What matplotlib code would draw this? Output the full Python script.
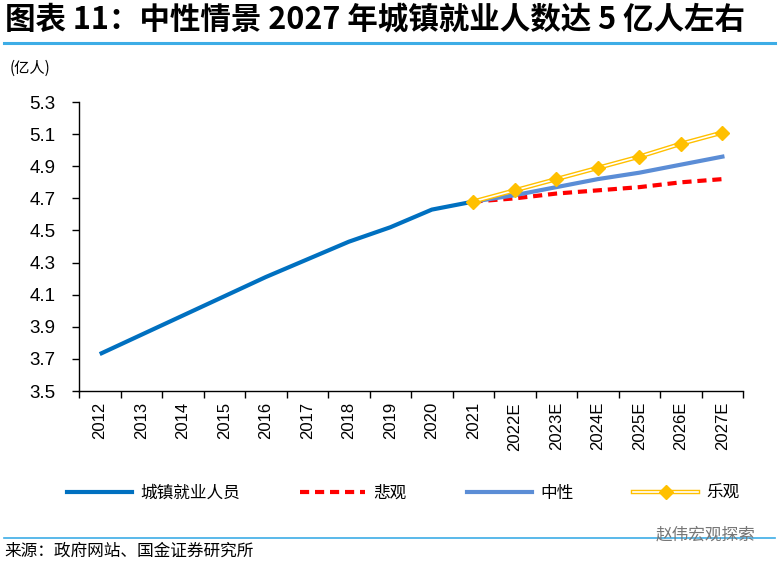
import numpy as np
import matplotlib.pyplot as plt
from matplotlib.lines import Line2D

plt.rcParams['font.family'] = ['Liberation Sans', 'Noto Sans CJK SC', 'DejaVu Sans']
cjk = ['Noto Sans CJK SC', 'DejaVu Sans']

years = ["2012", "2013", "2014", "2015", "2016", "2017", "2018", "2019", "2020", "2021",
         "2022E", "2023E", "2024E", "2025E", "2026E", "2027E"]
history = [3.73, 3.85, 3.97, 4.09, 4.21, 4.32, 4.43, 4.52, 4.63, 4.68]
pessimistic = [4.68, 4.70, 4.73, 4.75, 4.77, 4.80, 4.82]
neutral = [4.68, 4.72, 4.77, 4.82, 4.86, 4.91, 4.96]
optimistic = [4.68, 4.75, 4.82, 4.89, 4.96, 5.04, 5.11]
yticks = [3.5, 3.7, 3.9, 4.1, 4.3, 4.5, 4.7, 4.9, 5.1, 5.3]

x = np.arange(len(years))
xh = x[:len(history)]
xf = x[len(history) - 1:]

fig = plt.figure(figsize=(7.79, 5.67), dpi=100)
ax = fig.add_axes([0.1014, 0.3104, 0.8526, 0.5096])

c_hist = "#0070C0"
c_neu = "#5B8DD6"
c_red = "#FF0000"
c_gold = "#FFC000"

ax.plot(xh, history, color=c_hist, lw=3, solid_capstyle="butt")
ax.plot(xf, pessimistic, color=c_red, lw=3, ls=(0, (2.2, 1.4)))
ax.plot(xf, neutral, color=c_neu, lw=3)
ax.plot(xf, optimistic, color=c_gold, lw=3.2)
ax.plot(xf, optimistic, color="white", lw=1.2)
ax.plot(xf, optimistic, ls="none", marker="D", ms=7, color=c_gold, mec=c_gold)

ax.set_xlim(-0.5, len(years) - 0.5)
ax.set_ylim(3.5, 5.3)
ax.set_yticks(yticks)
ax.set_yticklabels([f"{v:.1f}" for v in yticks], fontsize=13.5)
ax.set_xticks(x)
ax.set_xticklabels(years, rotation=90, fontsize=12)
ax.set_xticks(np.arange(-0.5, len(years), 1), minor=True)
ax.tick_params(axis="x", which="major", length=0, pad=8)
ax.tick_params(axis="x", which="minor", length=5, direction="out", width=1)
ax.tick_params(axis="y", length=5, direction="out", width=1, pad=12)
for s in ["top", "right"]:
    ax.spines[s].set_visible(False)
for s in ["left", "bottom"]:
    ax.spines[s].set_linewidth(1)
    ax.spines[s].set_color("black")

h1 = Line2D([], [], color=c_hist, lw=3)
h2 = Line2D([], [], color=c_red, lw=3, ls=(0, (2.2, 1.4)))
h3 = Line2D([], [], color=c_neu, lw=3)
h4a = Line2D([], [], color=c_gold, lw=3.2)
h4b = Line2D([], [], color="white", lw=1.2)
h4c = Line2D([], [], ls="none", marker="D", ms=7, color=c_gold)
fig.legend([h1, h2, h3, (h4a, h4b, h4c)], ["城镇就业人员", "悲观", "中性", "乐观"],
           loc="center", bbox_to_anchor=(0.518, 0.13), ncol=4, frameon=False,
           prop={'family': cjk, 'size': 12}, handlelength=3.9, columnspacing=3.6,
           handletextpad=0.5)

fig.text(0.006, 0.965, "图表 11：中性情景 2027 年城镇就业人数达 5 亿人左右", fontsize=22,
         fontweight="bold", family=cjk, va="center", ha="left")
fig.add_artist(Line2D([0.005, 0.995], [0.924, 0.924], color="#3DADE6", lw=2.2,
                      transform=fig.transFigure))
fig.text(0.012, 0.88, "(亿人)", fontsize=11, family=cjk, va="center", ha="left")

fig.add_artist(Line2D([0.005, 0.995], [0.051, 0.051], color="#3DADE6", lw=1.2,
                      transform=fig.transFigure))
fig.text(0.006, 0.027, "来源：政府网站、国金证券研究所", fontsize=12, family=cjk,
         va="center", ha="left")
fig.text(0.97, 0.056, "赵伟宏观探索", fontsize=12, family=cjk, color="#777777",
         va="center", ha="right")

fig.savefig("out.png", dpi=100)
